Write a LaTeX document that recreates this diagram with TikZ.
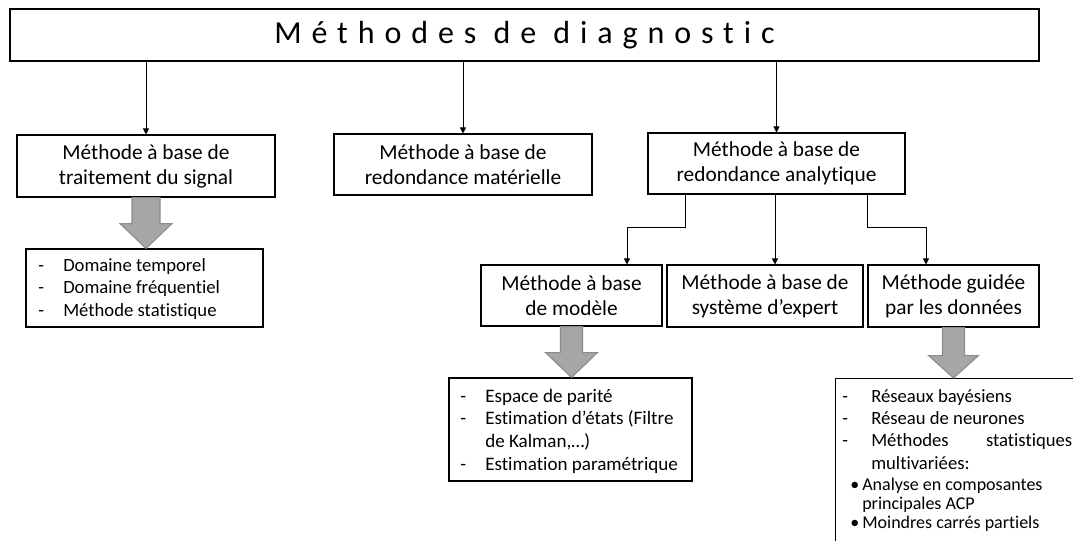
\documentclass[tikz,border=0pt]{standalone}
\usepackage{fontspec}
\setmainfont{Carlito}[Ligatures=NoCommon]
\usetikzlibrary{arrows.meta,calc}

% wide grey block arrow from the bottom of one box to the top of another
% #1 source node, #2 target node, #3 shaft half width, #4 head half width, #5 shaft length
\newcommand\blockarrow[5]{%
  \draw[garrow] ($(#1.south)+(-#3,0)$) -- ($(#1.south)+(-#3,#5)$)
    -- ($(#1.south)+(-#4,#5)$) -- (#1.south |- #2.north)
    -- ($(#1.south)+(#4,#5)$) -- ($(#1.south)+(#3,#5)$)
    -- ($(#1.south)+(#3,0)$) -- cycle;}

\begin{document}
\begin{tikzpicture}[x=0.75pt,y=-0.75pt,
  box/.style={draw=black, line width=0.8pt, inner sep=0pt, align=center,
    font=\fontsize{16}{18.75}\selectfont},
  titlebox/.style={draw=black, line width=1pt, inner sep=0pt,
    font=\fontsize{24}{28}\selectfont\addfontfeature{LetterSpace=31}},
  listbox/.style={draw=black, line width=0.8pt, inner sep=0pt},
  listtext/.style={inner sep=0pt, anchor=base west, font=\fontsize{14}{17.1}\selectfont},
  subtext/.style={inner sep=0pt, anchor=base west, font=\fontsize{13.5}{14.6}\selectfont},
  conn/.style={line width=0.7pt, -{Triangle[length=4.5pt,width=4.5pt]}},
  garrow/.style={fill=black!35, draw=black!45, line width=0.8pt, line join=miter}]

\useasboundingbox (0,0) rectangle (1073,540);
\clip (0,0) rectangle (1073,540);

% top level
\node[titlebox, minimum width=1029*0.75pt, minimum height=52*0.75pt] (title) at (524.5,35)
  {Méthodes de diagnostic};

% first level
\node[box, minimum width=258*0.75pt, minimum height=62*0.75pt] (sig) at (146,166)
  {Méthode à base de\\traitement du signal};
\node[box, minimum width=258*0.75pt, minimum height=61*0.75pt] (mat) at (463,164.5)
  {Méthode à base de\\redondance matérielle};
\node[box, minimum width=257*0.75pt, minimum height=61*0.75pt] (ana) at (776.5,163.5)
  {Méthode à base de\\redondance analytique};

% second level
\node[box, minimum width=181*0.75pt, minimum height=61*0.75pt] (mod) at (571.5,295.5)
  {Méthode à base\\de modèle};
\node[box, minimum width=196*0.75pt, minimum height=62*0.75pt] (exp) at (765,296)
  {Méthode à base de\\système d’expert};
\node[box, minimum width=171*0.75pt, minimum height=62*0.75pt] (don) at (953.5,296)
  {Méthode guidée\\par les données};

% connectors
\draw[conn] (title.south -| sig.north) -- (sig.north);
\draw[conn] (title.south -| mat.north) -- (mat.north);
\draw[conn] (title.south -| ana.north) -- (ana.north);

\coordinate (kl) at (685,227);
\coordinate (kr) at (867,227);
\coordinate (dl) at (627,0);
\coordinate (dm) at (775,0);
\coordinate (dr) at (926,0);
\draw[conn] (ana.south -| kl) -- (kl) -| (mod.north -| dl);
\draw[conn] (ana.south -| dm) -- (exp.north -| dm);
\draw[conn] (ana.south -| kr) -- (kr) -| (don.north -| dr);

% result lists
\node[listbox, minimum width=237*0.75pt, minimum height=78*0.75pt] (lsig) at (144.5,288) {};
\node[listbox, minimum width=243*0.75pt, minimum height=103*0.75pt] (lmod) at (570.5,429.5) {};
\node[listbox, anchor=north west, minimum width=320*0.75pt, minimum height=220*0.75pt] (ldon) at (835,378) {};

\blockarrow{sig}{lsig}{14}{26}{26}
\blockarrow{mod}{lmod}{11}{26}{26}
\blockarrow{don}{ldon}{11}{25}{28}

\node[listtext] (tsig) at (38,271) {\begin{tabular}[t]{@{}p{18.75pt}@{}l@{}}
  -&Domaine temporel\\
  -&Domaine fréquentiel\\
  -&Méthode statistique
\end{tabular}};

\node[listtext, font=\fontsize{14.3}{17}\selectfont] (tmod) at (460,402) {\begin{tabular}[t]{@{}p{18.75pt}@{}l@{}}
  -&Espace de parité\\
  -&Estimation d’états (Filtre\\
   &de Kalman,…)\\
  -&Estimation paramétrique
\end{tabular}};

\node[listtext, font=\fontsize{14}{16.75}\selectfont] (tdon) at (842,402) {\begin{tabular}[t]{@{}p{21.75pt}@{}l@{}}
  -&Réseaux bayésiens\\
  -&Réseau de neurones\\
  -&\makebox[150.75pt][s]{Méthodes statistiques}\\
   &multivariées:
\end{tabular}};

\node[subtext] (tsub) at (850,490) {\begin{tabular}[t]{@{}p{9pt}@{}l@{}}
  •&Analyse en composantes\\
   &principales ACP\\
  •&Moindres carrés partiels
\end{tabular}};

\end{tikzpicture}
\end{document}
